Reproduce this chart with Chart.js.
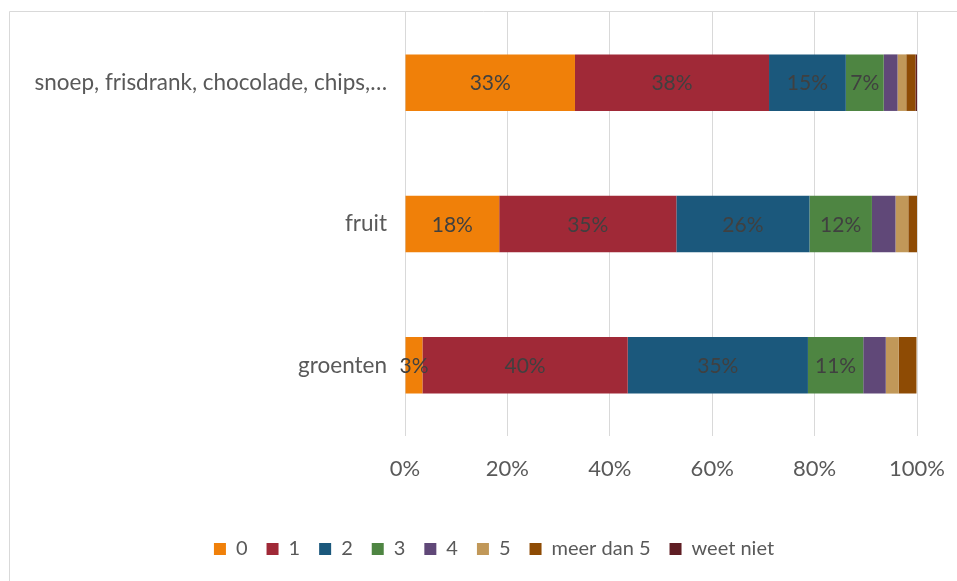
<!DOCTYPE html>
<html>
<head>
<meta charset="utf-8">
<script src="https://cdn.jsdelivr.net/npm/chart.js@4"></script>
<style>
    body { margin: 0; background: #fff; }
    #wrap { width: 957px; height: 581px; position: relative; }
</style>
</head>
<body>
<div id="wrap"><canvas id="chart" width="957" height="581"></canvas></div>
<script>
const categories = ["snoep, frisdrank, chocolade, chips,\u2026", "fruit", "groenten"]
const seriesNames = ["0", "1", "2", "3", "4", "5", "meer dan 5", "weet niet"]
const seriesColors = ["#F08009", "#A02937", "#1B587C", "#4E8542", "#604878", "#C19859", "#8E4B04", "#5F1E24"]

// percentages per answer, one value per category (snoep, fruit, groenten)
const answer0 = [33.2, 18.4, 3.4]
const answer1 = [37.9, 34.6, 40.1]
const answer2 = [15.0, 26.0, 35.2]
const answer3 = [7.4, 12.2, 10.8]
const answer4 = [2.7, 4.6, 4.4]
const answer5 = [1.7, 2.5, 2.5]
const answerMore = [1.8, 1.7, 3.5]
const answerUnknown = [0.3, 0.1, 0.0]

const xTicks = [0, 20, 40, 60, 80, 100]
const labelledSeries = [0, 1, 2, 3]

const seriesValues = [answer0, answer1, answer2, answer3, answer4, answer5, answerMore, answerUnknown]

const FONT = "Lato, 'Open Sans', sans-serif"

// draws the rounded percentage in the middle of each labelled segment
const segmentLabels = {
    id: "segmentLabels",
    afterDatasetsDraw(chart) {
        const ctx = chart.ctx
        ctx.save()
        ctx.font = "21px " + FONT
        ctx.fillStyle = "#404040"
        ctx.textAlign = "center"
        ctx.textBaseline = "middle"
        labelledSeries.forEach(i => {
            const meta = chart.getDatasetMeta(i)
            meta.data.forEach((bar, j) => {
                const v = chart.data.datasets[i].data[j]
                const cx = (bar.x + bar.base) / 2
                ctx.fillText(Math.round(v) + "%", cx, bar.y + 1)
            })
        })
        ctx.restore()
    }
}

// thin frame around the chart, and the legend row nudged to the right
const frame = {
    id: "frame",
    afterLayout(chart) {
        const legend = chart.legend
        const shift = 494 - (legend.left + legend.right) / 2
        legend.left += shift
        legend.right += shift
    },
    beforeDraw(chart) {
        const ctx = chart.ctx
        ctx.save()
        ctx.strokeStyle = "#d9d9d9"
        ctx.lineWidth = 1
        ctx.beginPath()
        ctx.moveTo(9.5, 600)
        ctx.lineTo(9.5, 11.5)
        ctx.lineTo(960, 11.5)
        ctx.stroke()
        ctx.restore()
    }
}

new Chart(document.getElementById("chart"), {
    type: "bar",
    data: {
        labels: categories,
        datasets: seriesValues.map((values, i) => ({
            label: seriesNames[i],
            data: values,
            backgroundColor: seriesColors[i],
            borderWidth: 0,
            categoryPercentage: 1,
            barPercentage: 0.4
        }))
    },
    options: {
        indexAxis: "y",
        responsive: false,
        animation: false,
        layout: { padding: { top: 12, right: 40, bottom: 12, left: 0 } },
        scales: {
            x: {
                stacked: true,
                min: 0,
                max: 100,
                afterBuildTicks(scale) {
                    scale.ticks = xTicks.map(v => ({ value: v }))
                },
                afterFit(scale) {
                    scale.height = 84
                    scale.paddingLeft = 0
                    scale.paddingRight = 0
                },
                ticks: {
                    callback: v => v + "%",
                    color: "#595959",
                    font: { family: FONT, size: 22 },
                    padding: 20
                },
                grid: { color: "#d9d9d9", drawTicks: false },
                border: { display: false }
            },
            y: {
                stacked: true,
                afterFit(scale) {
                    scale.width = 405
                    scale.paddingTop = 0
                    scale.paddingBottom = 0
                },
                ticks: {
                    color: "#595959",
                    font: { family: FONT, size: 22.5 },
                    padding: 18
                },
                grid: { display: false, drawTicks: false },
                border: { display: false }
            }
        },
        plugins: {
            legend: {
                position: "bottom",
                labels: {
                    color: "#595959",
                    font: { family: FONT, size: 20 },
                    boxWidth: 12,
                    boxHeight: 12,
                    padding: 19
                }
            },
            tooltip: { enabled: false }
        }
    },
    plugins: [segmentLabels, frame]
})
</script>
</body>
</html>
